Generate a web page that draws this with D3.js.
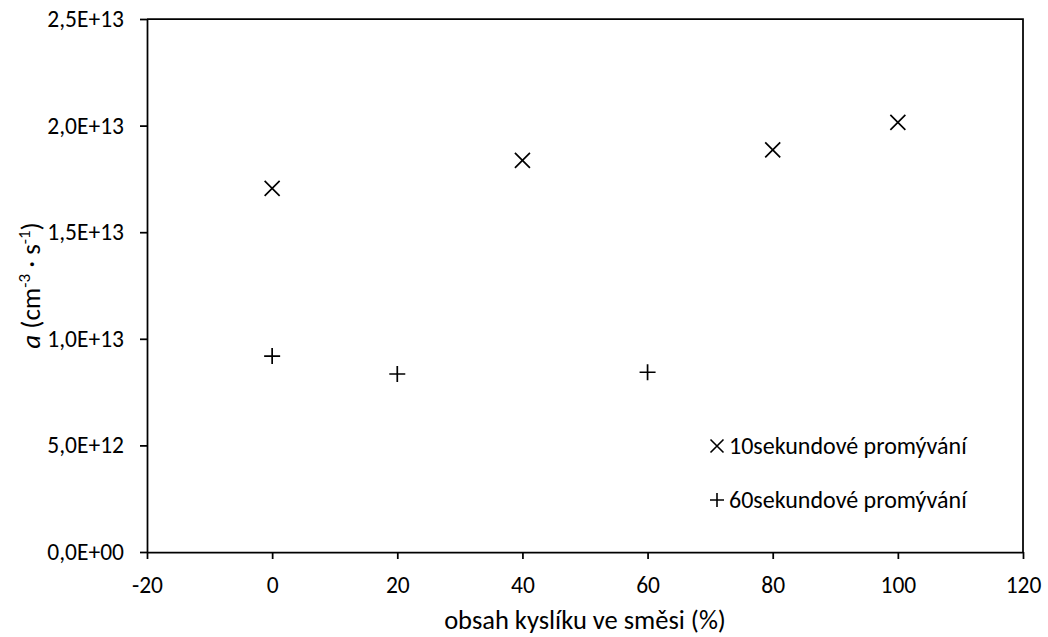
<!DOCTYPE html>
<html>
<head>
<meta charset="utf-8">
<script src="https://cdn.jsdelivr.net/npm/d3@7"></script>
<style>
  body { margin: 0; background: #fff; }
  text { font-family: Calibri, Carlito, Lato, sans-serif; fill: #000; }
</style>
</head>
<body>
<svg id="chart" width="1048" height="637"></svg>
<script>
const xTicks = [-20, 0, 20, 40, 60, 80, 100, 120]
const yTicks = [0, 5e12, 1e13, 1.5e13, 2e13, 2.5e13]

const series10 = [
  { x: 0, y: 1.706e13 },
  { x: 40, y: 1.837e13 },
  { x: 80, y: 1.886e13 },
  { x: 100, y: 2.015e13 }
]
const series60 = [
  { x: 0, y: 0.919e13 },
  { x: 20, y: 0.835e13 },
  { x: 60, y: 0.843e13 }
]
const legendLabels = ['10sekundové promývání', '60sekundové promývání']

const margin = { top: 19, right: 25, bottom: 85, left: 147 }
const w = 1048
const h = 637
const width = w - margin.left - margin.right
const height = h - margin.top - margin.bottom

const svg = d3.select('#chart')
const g = svg.append('g').attr('transform', `translate(${margin.left},${margin.top})`)

const x = d3.scaleLinear().domain([-20, 120]).range([0, width])
const y = d3.scaleLinear().domain([0, 2.5e13]).range([height, 0])

const sciFormat = d => {
  if (d === 0) return '0,0E+00'
  const e = Math.floor(Math.log10(d))
  const m = d / Math.pow(10, e)
  return m.toFixed(1).replace('.', ',') + 'E+' + String(e).padStart(2, '0')
}

// frame (top + right)
g.append('path')
  .attr('d', `M0,0H${width}V${height}`)
  .attr('fill', 'none')
  .attr('stroke', '#000')
  .attr('stroke-width', 1.75)

const axisX = d3.axisBottom(x).tickValues(xTicks).tickFormat(d => String(d))
  .tickSizeInner(7).tickSizeOuter(0).tickPadding(17)
const gx = g.append('g').attr('transform', `translate(0,${height})`).call(axisX)

const axisY = d3.axisLeft(y).tickValues(yTicks).tickFormat(sciFormat)
  .tickSizeInner(7).tickSizeOuter(0).tickPadding(16)
const gy = g.append('g').call(axisY)

;[gx, gy].forEach(a => {
  a.select('.domain').attr('stroke', '#000').attr('stroke-width', 1.75)
  a.selectAll('.tick line').attr('stroke', '#000').attr('stroke-width', 1.75)
  a.selectAll('.tick text').style('font-size', '23.5px').attr('fill', '#000')
})

// markers
const xPath = r => `M${-r},${-r}L${r},${r}M${-r},${r}L${r},${-r}`
const plusPath = r => `M${-r},0H${r}M0,${-r}V${r}`

g.selectAll('.m10').data(series10).enter()
  .append('path')
  .attr('class', 'm10')
  .attr('transform', d => `translate(${x(d.x)},${y(d.y)})`)
  .attr('d', xPath(7.5))
  .attr('stroke', '#000')
  .attr('stroke-width', 1.7)
  .attr('fill', 'none')

g.selectAll('.m60').data(series60).enter()
  .append('path')
  .attr('class', 'm60')
  .attr('transform', d => `translate(${x(d.x)},${y(d.y)})`)
  .attr('d', plusPath(8))
  .attr('stroke', '#000')
  .attr('stroke-width', 1.7)
  .attr('fill', 'none')

// legend
const legend = svg.append('g').attr('transform', 'translate(717,446)')
legendLabels.forEach((lab, i) => {
  const row = legend.append('g').attr('transform', `translate(0,${i * 54})`)
  row.append('path')
    .attr('d', i === 0 ? xPath(6.5) : plusPath(7))
    .attr('stroke', '#000')
    .attr('stroke-width', 1.6)
    .attr('fill', 'none')
  row.append('text')
    .attr('x', 12)
    .attr('dy', '0.33em')
    .style('font-size', '24px')
    .text(lab)
})

// axis titles
svg.append('text')
  .attr('x', margin.left + width / 2)
  .attr('y', 629)
  .attr('text-anchor', 'middle')
  .style('font-size', '26.5px')
  .text('obsah kyslíku ve směsi (%)')

const yt = svg.append('text')
  .attr('transform', `translate(40,${margin.top + height / 2}) rotate(-90)`)
  .attr('text-anchor', 'middle')
  .style('font-size', '27px')
yt.append('tspan').style('font-style', 'italic').text('a')
yt.append('tspan').text(' (cm')
yt.append('tspan').attr('baseline-shift', 'super').style('font-size', '17px').text('-3')
yt.append('tspan').text(' · s')
yt.append('tspan').attr('baseline-shift', 'super').style('font-size', '17px').text('-1')
yt.append('tspan').text(')')
</script>
</body>
</html>
